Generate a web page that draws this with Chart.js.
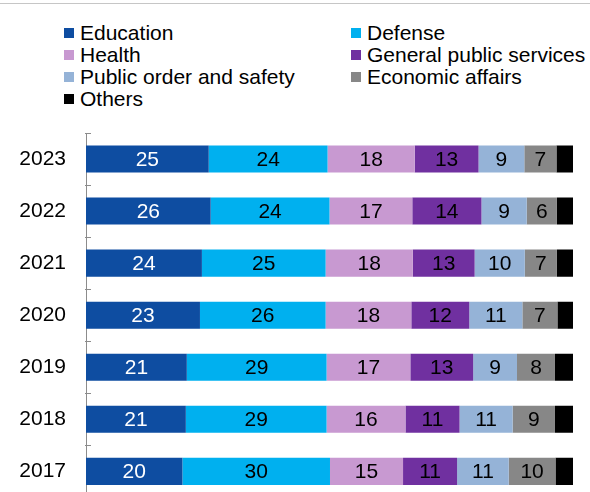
<!DOCTYPE html>
<html>
<head>
<meta charset="utf-8">
<script src="https://cdn.jsdelivr.net/npm/chart.js@4/dist/chart.umd.min.js"></script>
<style>
  html, body { margin: 0; padding: 0; background: #fff; overflow: hidden; }
  #wrap { position: relative; width: 590px; height: 492px; overflow: hidden; }
  #topline { position: absolute; left: 0; top: 3px; width: 590px; height: 1px; background: #c6c6c6; }
  #legend {
    position: absolute; left: 64px; top: 22px;
    display: grid; grid-template-columns: 287px 240px; grid-auto-rows: 22px;
    font-family: "Liberation Sans", Arial, sans-serif; font-size: 21px; color: #000;
  }
  #legend .item { display: flex; align-items: center; white-space: nowrap; }
  #legend .box { width: 10px; height: 10px; margin-right: 6px; flex: none; }
  canvas { position: absolute; left: 0; top: 0; }
</style>
</head>
<body>
<div id="wrap">
  <div id="topline"></div>
  <div id="legend"></div>
  <!-- taller than the window on purpose: the last category runs past the bottom edge -->
  <canvas id="chart" width="590" height="530"></canvas>
</div>
<script>
// years, top to bottom
var years = ["2023", "2022", "2021", "2020", "2019", "2018", "2017"];

// shares in %
var education = [25.2, 25.6, 23.8, 23.4, 20.7, 20.5, 19.8];
var defense = [24.4, 24.4, 25.4, 25.8, 28.7, 28.9, 30.3];
var health = [17.9, 17.0, 17.9, 17.6, 17.2, 16.2, 15.0];
var generalPublic = [13.1, 14.2, 12.7, 11.9, 12.9, 11.1, 11.1];
var publicOrder = [9.4, 9.3, 10.3, 10.9, 9.0, 10.9, 10.6];
var economic = [6.6, 6.2, 6.6, 7.2, 7.8, 8.7, 9.6];
var others = [3.4, 3.3, 3.3, 3.2, 3.7, 3.7, 3.6];

var seriesNames = ["Education", "Defense", "Health", "General public services",
  "Public order and safety", "Economic affairs", "Others"];
var seriesValues = [education, defense, health, generalPublic, publicOrder, economic, others];
var seriesColors = ["#0E4DA1", "#00B0EF", "#C899D1", "#7030A0", "#95B3D7", "#878787", "#000000"];
var labelColors = ["#ffffff", "#000000", "#000000", "#000000", "#000000", "#000000", null];

// legend: two columns, filled row by row
var legend = document.getElementById("legend");
seriesNames.forEach(function (name, i) {
  var item = document.createElement("div");
  item.className = "item";
  item.innerHTML = '<span class="box" style="background:' + seriesColors[i] + '"></span>' + name;
  legend.appendChild(item);
});

var datasets = seriesNames.map(function (name, i) {
  return {
    label: name,
    data: seriesValues[i],
    backgroundColor: seriesColors[i],
    borderWidth: 0,
    categoryPercentage: 1,
    barPercentage: 0.52
  };
});

// numbers in the middle of each segment
var segmentLabels = {
  id: "segmentLabels",
  afterDatasetsDraw: function (chart) {
    var ctx = chart.ctx;
    ctx.save();
    ctx.font = "21px 'Liberation Sans', Arial, sans-serif";
    ctx.textAlign = "center";
    ctx.textBaseline = "middle";
    chart.data.datasets.forEach(function (ds, i) {
      if (!labelColors[i]) return;
      ctx.fillStyle = labelColors[i];
      chart.getDatasetMeta(i).data.forEach(function (bar, j) {
        ctx.fillText(Math.round(ds.data[j]), (bar.x + bar.base) / 2, bar.y + 1);
      });
    });
    ctx.restore();
  }
};

// short tick marks on the inside of the category axis, between the years
var innerTicks = {
  id: "innerTicks",
  afterDraw: function (chart) {
    var ctx = chart.ctx;
    var area = chart.chartArea;
    var step = (area.bottom - area.top) / years.length;
    ctx.save();
    ctx.strokeStyle = "#8c8c8c";
    ctx.lineWidth = 1;
    for (var k = 0; k <= years.length; k++) {
      var y = Math.round(area.top + k * step) + 0.5;
      ctx.beginPath();
      ctx.moveTo(area.left - 1, y);
      ctx.lineTo(area.left + 5, y);
      ctx.stroke();
    }
    ctx.restore();
  }
};

new Chart(document.getElementById("chart"), {
  type: "bar",
  data: { labels: years, datasets: datasets },
  options: {
    indexAxis: "y",
    responsive: false,
    animation: false,
    // y tick padding (20) + half label height pads top/bottom, so no extra bottom padding
    layout: { padding: { top: 133, bottom: 0, right: 17, left: 0 } },
    plugins: { legend: { display: false }, tooltip: { enabled: false } },
    scales: {
      x: {
        stacked: true,
        min: 0,
        max: 100,
        display: false
      },
      y: {
        stacked: true,
        afterFit: function (scale) { scale.width = 86; },
        grid: { display: false, drawTicks: false },
        border: { display: true, color: "#8c8c8c", width: 1 },
        ticks: {
          padding: 20,
          color: "#000",
          font: { family: "'Liberation Sans', Arial, sans-serif", size: 21 }
        }
      }
    }
  },
  plugins: [segmentLabels, innerTicks]
});
</script>
</body>
</html>
